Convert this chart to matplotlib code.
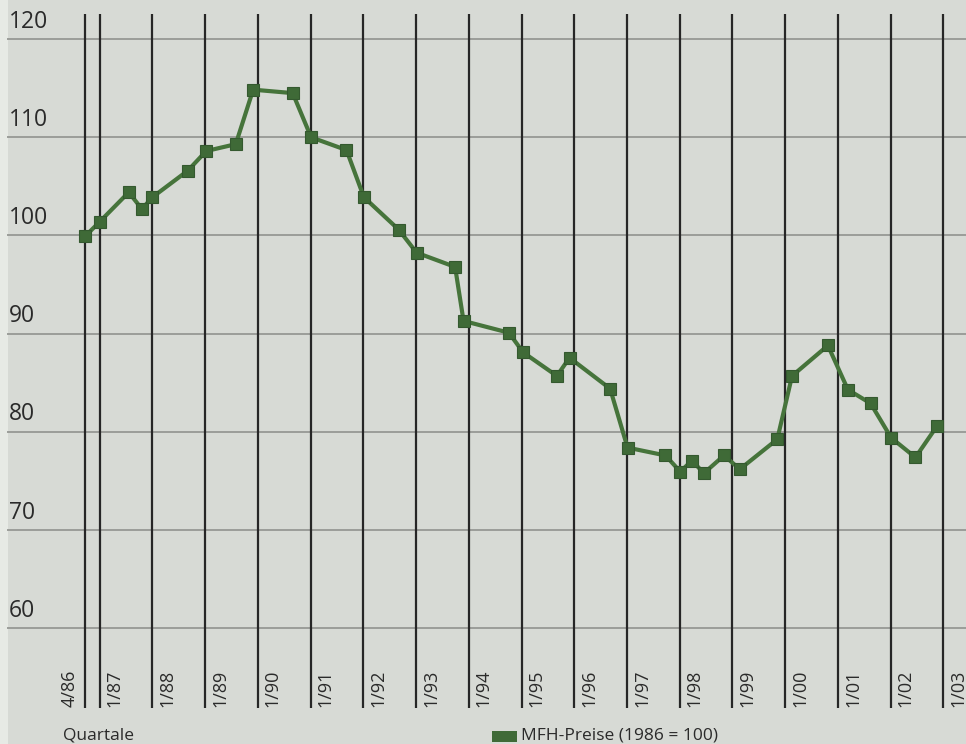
import matplotlib
matplotlib.use("Agg")
import matplotlib.pyplot as plt
from matplotlib.patches import Rectangle

plt.rcParams['font.family'] = ['Open Sans', 'DejaVu Sans']

# Data: time (decimal year) and index values
dates = [1986.72, 1987.00, 1987.55, 1987.80, 1988.00, 1988.67, 1989.02, 1989.58,
         1989.91, 1990.66, 1991.01, 1991.68, 1992.01, 1992.67, 1993.01, 1993.74,
         1993.90, 1994.76, 1995.03, 1995.67, 1995.91, 1996.68, 1997.01, 1997.73,
         1998.01, 1998.23, 1998.46, 1998.84, 1999.14, 1999.85, 2000.13, 2000.81,
         2001.19, 2001.62, 2002.01, 2002.47, 2002.88]
values = [99.9, 101.4, 104.4, 102.7, 103.9, 106.6, 108.6, 109.3,
          114.85, 114.5, 110.0, 108.7, 103.9, 100.6, 98.25, 96.8,
          91.3, 90.1, 88.1, 85.7, 87.55, 84.4, 78.4, 77.6,
          75.95, 77.07, 75.8, 77.6, 76.2, 79.25, 85.7, 88.8,
          84.3, 82.9, 79.4, 77.4, 80.6]

tick_labels = ["4/86", "1/87", "1/88", "1/89", "1/90", "1/91", "1/92", "1/93", "1/94",
               "1/95", "1/96", "1/97", "1/98", "1/99", "1/00", "1/01", "1/02", "1/03"]
tick_pos = [1986.72] + [1987 + i for i in range(17)]
y_ticks = [60, 70, 80, 90, 100, 110, 120]

series_name = "MFH-Preise (1986 = 100)"
x_title = "Quartale"

W, H = 966, 744
fig = plt.figure(figsize=(W / 100, H / 100), dpi=100)
fig.patch.set_facecolor('#d7dad5')
ax = fig.add_axes([0, 0, 1, 1])
ax.set_facecolor('#d7dad5')

px_per_year = 52.73
x0 = 1987 - 99.7 / px_per_year
x1 = 1987 + (W - 99.7) / px_per_year
px_per_unit = 9.82
ytop = 100 + 235.5 / px_per_unit
ybot = 100 - (H - 235.5) / px_per_unit
ax.set_xlim(x0, x1)
ax.set_ylim(ybot, ytop)
ax.axis('off')

# light left strip
ax.add_patch(Rectangle((0, 0), 8 / W, 1, transform=ax.transAxes,
                       facecolor='#e7eae5', edgecolor='none', zorder=0))

# horizontal gridlines and labels
for v in y_ticks:
    ax.axhline(v, xmin=8 / W, xmax=1, color='#9b9d99', lw=1.4, zorder=1)
    ax.text(x0 + 9 / px_per_year, v + 0.55, str(v), fontsize=16.5, color='#2a2a2a',
            ha='left', va='bottom', zorder=3)

# vertical lines and rotated tick labels
vtop = 100 + (235.5 - 14) / px_per_unit
vbot = 100 - (708 - 235.5) / px_per_unit
ax.vlines(tick_pos, vbot, vtop, colors='#262626', lw=1.6, zorder=2)
for i, (p, lab) in enumerate(zip(tick_pos, tick_labels)):
    if i == 0:
        xp = p - 6 / px_per_year
        ha = 'right'
    else:
        xp = p + 6 / px_per_year
        ha = 'left'
    ax.text(xp, vbot + 0.15, lab, rotation=90, fontsize=13, color='#2a2a2a',
            ha=ha, va='bottom', zorder=3)

# data line
ax.plot(dates, values, color='#46743b', lw=3.0, zorder=4, solid_joinstyle='miter')
ax.plot(dates, values, ls='none', marker='s', ms=9.3, mfc='#3f6a37',
        mec='#34592f', mew=0.8, zorder=5)

# x title and legend
ax.text(x0 + 63 / px_per_year, ybot + 0.5 / px_per_unit, x_title, fontsize=12.5,
        color='#2a2a2a', ha='left', va='bottom')
ax.add_patch(Rectangle((492 / W, (H - 742) / H), 25 / W, 11 / H, transform=ax.transAxes,
                       facecolor='#3f6a37', edgecolor='none', zorder=5))
ax.text(521 / W, (H - 744) / H, series_name, transform=ax.transAxes, fontsize=12.5,
        color='#2a2a2a', ha='left', va='bottom')

fig.savefig('out.png', dpi=100, facecolor=fig.get_facecolor())
